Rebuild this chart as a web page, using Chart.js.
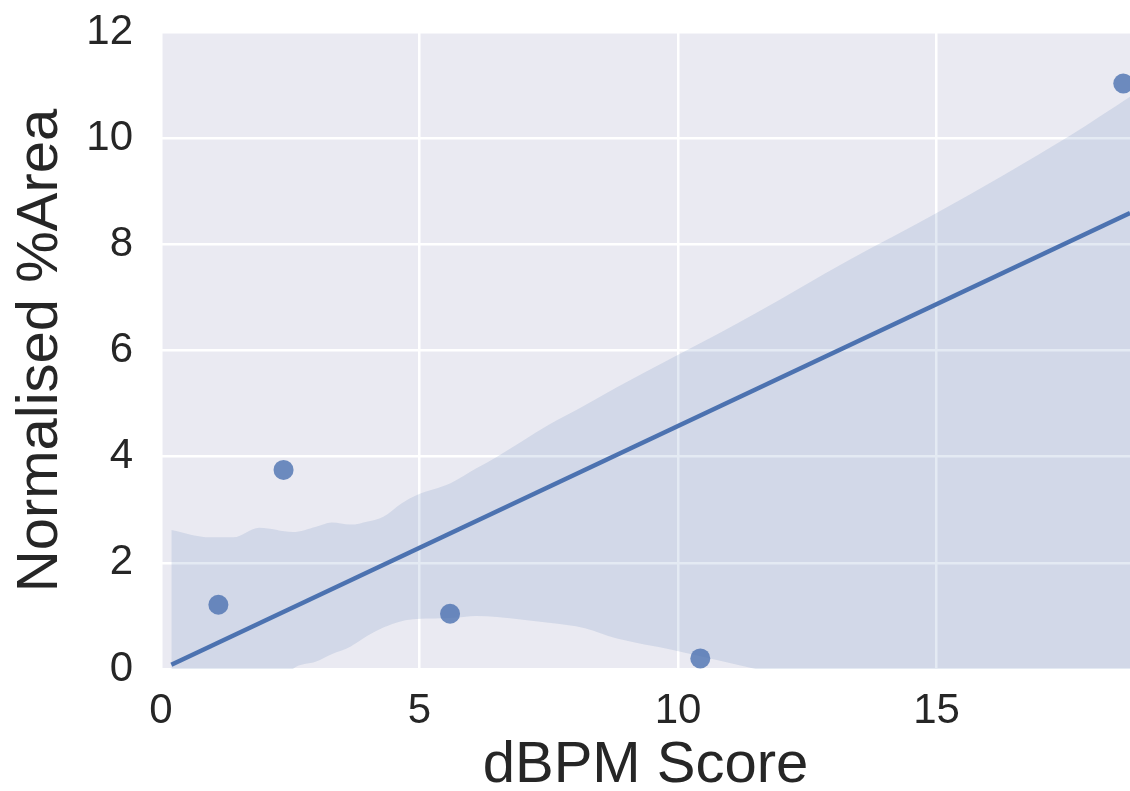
<!DOCTYPE html>
<html>
<head>
<meta charset="utf-8">
<script src="https://cdn.jsdelivr.net/npm/chart.js@4"></script>
<style>
  html, body { margin: 0; padding: 0; background: #fff; overflow: hidden; }
  #wrap { width: 1130px; height: 791px; }
</style>
</head>
<body>
<div id="wrap"><canvas id="chart"></canvas></div>
<script>
// scatter points
const ptX = [1.11, 2.37, 5.59, 10.43, 18.61];
const ptY = [1.21, 3.75, 1.04, 0.2, 11.03];

// fitted line (end points)
const lineX = [0.2, 18.74];
const lineY = [0.08, 8.59];

// confidence band
const bandX = [0.2, 0.95, 1.4, 1.9, 2.55, 3.0, 3.3, 3.66, 4.0, 4.3, 4.65, 4.95, 5.6, 6.1, 6.5, 7.0, 7.5, 8.2, 8.8, 9.9, 10.75, 11.5, 13.3, 15.0, 17.6, 18.74];
const bandUpper = [2.62, 2.48, 2.48, 2.66, 2.58, 2.68, 2.76, 2.72, 2.78, 2.87, 3.12, 3.28, 3.5, 3.78, 4.0, 4.3, 4.6, 4.97, 5.3, 5.87, 6.3, 6.7, 7.7, 8.59, 10.06, 10.78];
const bandLower = [-2.5, -1.8, -1.4, -0.8, 0.0, 0.14, 0.28, 0.42, 0.63, 0.78, 0.9, 0.94, 0.96, 1.0, 0.98, 0.93, 0.87, 0.77, 0.58, 0.36, 0.17, 0.0, -0.5, -1.0, -1.8, -2.2];

// tick labels
const xTicks = [0, 5, 10, 15];
const yTicks = [0, 2, 4, 6, 8, 10, 12];

const toXY = (xs, ys) => xs.map((x, i) => ({ x: x, y: ys[i] }));

// grey plot background like seaborn darkgrid
const plotBg = {
  id: "plotBg",
  beforeDraw(chart) {
    const { ctx, chartArea: a } = chart;
    ctx.save();
    ctx.fillStyle = "#EAEAF2";
    ctx.fillRect(a.left, a.top, a.right - a.left, a.bottom - a.top);
    ctx.restore();
  },
};

const blue = "#4C72B0";
const textCol = "#262626";
const fontFam = "'Liberation Sans', Arial, sans-serif";

const data = {
  datasets: [
    {
      label: "points",
      data: toXY(ptX, ptY),
      backgroundColor: "rgba(76,114,176,0.8)",
      borderWidth: 0,
      pointRadius: 10,
      order: 0,
    },
    {
      label: "fit",
      data: toXY(lineX, lineY),
      showLine: true,
      borderColor: blue,
      borderWidth: 4.5,
      pointRadius: 0,
      order: 1,
    },
    {
      label: "upper",
      data: toXY(bandX, bandUpper),
      showLine: true,
      borderWidth: 0,
      pointRadius: 0,
      cubicInterpolationMode: "monotone",
      fill: "+1",
      backgroundColor: "rgba(76,114,176,0.15)",
      order: 2,
    },
    {
      label: "lower",
      data: toXY(bandX, bandLower),
      showLine: true,
      borderWidth: 0,
      pointRadius: 0,
      cubicInterpolationMode: "monotone",
      fill: false,
      order: 3,
    },
  ],
};

const config = {
  type: "scatter",
  data,
  plugins: [plotBg],
  options: {
    responsive: true,
    maintainAspectRatio: false,
    animation: false,
    events: [],
    layout: { autoPadding: false, padding: { top: 32, right: 0, left: 0, bottom: 0 } },
    plugins: {
      legend: { display: false },
      tooltip: { enabled: false },
    },
    scales: {
      x: {
        type: "linear",
        min: 0,
        max: 18.74,
        afterFit: (s) => { s.height = 122; s.paddingLeft = 0; s.paddingRight = 0; },
        afterBuildTicks: (s) => { s.ticks = xTicks.map((v) => ({ value: v })); },
        ticks: {
          includeBounds: false,
          color: textCol,
          padding: 17,
          font: { family: fontFam, size: 42 },
        },
        grid: { color: "#ffffff", lineWidth: 2.5, drawTicks: false },
        border: { display: false },
        title: {
          display: true,
          text: "dBPM Score",
          color: textCol,
          padding: 0,
          font: { family: fontFam, size: 58, lineHeight: 0.85 },
        },
      },
      y: {
        type: "linear",
        min: 0,
        max: 12,
        afterFit: (s) => { s.width = 161; s.paddingTop = 0; s.paddingBottom = 0; },
        afterBuildTicks: (s) => { s.ticks = yTicks.map((v) => ({ value: v })); },
        ticks: {
          color: textCol,
          padding: 28,
          font: { family: fontFam, size: 42 },
        },
        grid: { color: "#ffffff", lineWidth: 2.5, drawTicks: false },
        border: { display: false },
        title: {
          display: true,
          text: "Normalised %Area",
          color: textCol,
          padding: 16,
          font: { family: fontFam, size: 58, lineHeight: 0.85 },
        },
      },
    },
  },
};

new Chart(document.getElementById("chart"), config);
</script>
</body>
</html>
